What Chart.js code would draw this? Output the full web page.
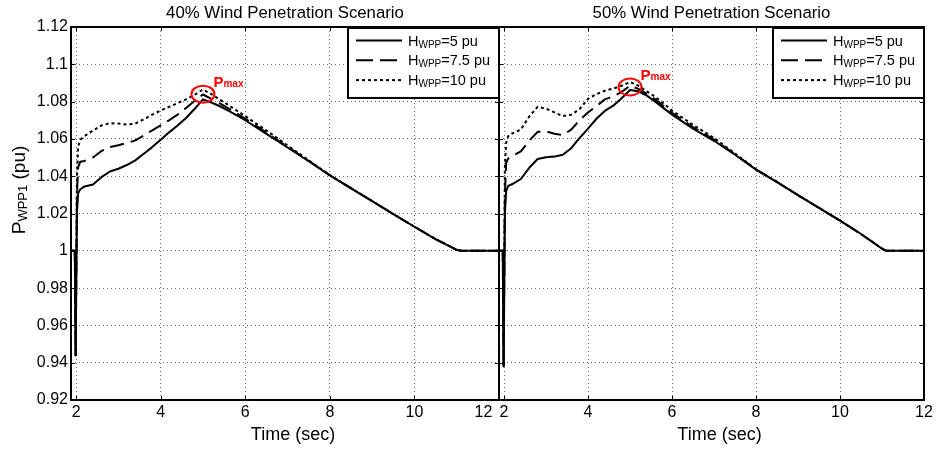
<!DOCTYPE html>
<html><head><meta charset="utf-8">
<script src="https://cdn.jsdelivr.net/npm/chart.js@4.4.0/dist/chart.umd.min.js"></script>
<style>
html,body{margin:0;padding:0;background:#fff;}
#wrap{position:relative;width:944px;height:450px;overflow:hidden;background:#fff;}
canvas{position:absolute;top:0;}
</style></head><body>
<div id="wrap">
<canvas id="c1" width="540" height="450" style="left:0px"></canvas>
<canvas id="c2" width="464" height="450" style="left:480px"></canvas>
</div>
<script>
const FONT = "'Liberation Sans', Arial, Helvetica, sans-serif";

// Time axis (sec)
const time = [1.88, 1.97, 1.99, 2.02, 2.05, 2.1, 2.2, 2.4, 2.6, 2.8, 3.0, 3.2, 3.4, 3.6, 3.8, 4.0, 4.2, 4.4, 4.6, 4.8, 5.0, 5.2, 5.4, 5.6, 5.8, 6.0, 6.5, 7.0, 7.5, 8.0, 8.5, 9.0, 9.5, 10.0, 10.5, 11.0, 11.1, 11.5, 12.0];

// 40% wind penetration
const p40_H5  = [1.0, 1.0, 0.944, 1.020, 1.031, 1.0330, 1.0345, 1.0355, 1.0395, 1.0425, 1.0440, 1.0460, 1.0485, 1.0520, 1.0556, 1.0595, 1.0635, 1.0672, 1.0712, 1.0760, 1.0812, 1.0795, 1.0775, 1.0752, 1.0726, 1.0700, 1.0627, 1.0554, 1.0480, 1.0404, 1.0335, 1.0266, 1.0197, 1.0129, 1.0063, 1.0005, 1.0, 1.0, 1.0];
const p40_H75 = [1.0, 1.0, 0.944, 1.030, 1.045, 1.0478, 1.0482, 1.0500, 1.0535, 1.0556, 1.0566, 1.0578, 1.0592, 1.0618, 1.0646, 1.0672, 1.0700, 1.0730, 1.0766, 1.0803, 1.0838, 1.0815, 1.0790, 1.0764, 1.0737, 1.0709, 1.0634, 1.0558, 1.0482, 1.0405, 1.0336, 1.0267, 1.0197, 1.0129, 1.0063, 1.0005, 1.0, 1.0, 1.0];
const p40_H10 = [1.0, 1.0, 0.944, 1.040, 1.056, 1.0595, 1.0615, 1.0645, 1.0672, 1.0684, 1.0682, 1.0677, 1.0682, 1.0705, 1.0730, 1.0752, 1.0772, 1.0792, 1.0812, 1.0836, 1.0865, 1.0840, 1.0810, 1.0782, 1.0752, 1.0722, 1.0645, 1.0565, 1.0485, 1.0406, 1.0336, 1.0267, 1.0197, 1.0129, 1.0063, 1.0005, 1.0, 1.0, 1.0];

// 50% wind penetration
const p50_H5  = [1.0, 1.0, 0.938, 1.020, 1.032, 1.0348, 1.0358, 1.0385, 1.0445, 1.0492, 1.0502, 1.0505, 1.0515, 1.0550, 1.0605, 1.0655, 1.0708, 1.0750, 1.0778, 1.0818, 1.0862, 1.0855, 1.0832, 1.0800, 1.0765, 1.0730, 1.0655, 1.0590, 1.0515, 1.0435, 1.0368, 1.0298, 1.0230, 1.0162, 1.0090, 1.0012, 1.0, 1.0, 1.0];
const p50_H75 = [1.0, 1.0, 0.938, 1.030, 1.047, 1.0495, 1.0510, 1.0533, 1.0590, 1.0638, 1.0640, 1.0628, 1.0620, 1.0650, 1.0700, 1.0742, 1.0775, 1.0812, 1.0828, 1.0852, 1.0885, 1.0868, 1.0842, 1.0812, 1.0776, 1.0740, 1.0663, 1.0596, 1.0518, 1.0436, 1.0369, 1.0298, 1.0230, 1.0162, 1.0090, 1.0012, 1.0, 1.0, 1.0];
const p50_H10 = [1.0, 1.0, 0.938, 1.045, 1.058, 1.0615, 1.0630, 1.0650, 1.0720, 1.0772, 1.0762, 1.0742, 1.0722, 1.0730, 1.0760, 1.0815, 1.0840, 1.0858, 1.0870, 1.0885, 1.0905, 1.0885, 1.0855, 1.0825, 1.0790, 1.0752, 1.0675, 1.0605, 1.0522, 1.0437, 1.0369, 1.0298, 1.0230, 1.0162, 1.0090, 1.0012, 1.0, 1.0, 1.0];

const hValues = ['5', '7.5', '10'];
const xTickValues = [2, 4, 6, 8, 10, 12];
const xTickLabels = ['2', '4', '6', '8', '10', '12'];
const yTickValues = [0.92, 0.94, 0.96, 0.98, 1.00, 1.02, 1.04, 1.06, 1.08, 1.10, 1.12];
const yTickLabels = ['0.92', '0.94', '0.96', '0.98', '1', '1.02', '1.04', '1.06', '1.08', '1.1', '1.12'];
const panelTitles = ['40% Wind Penetration Scenario', '50% Wind Penetration Scenario'];
const pmaxTime = [5.0, 5.0];
const pmaxValue = [1.0840, 1.0878];

const lineDashes = [[], [14, 7], [3, 3]];

function toXY(ys) { return time.map((t, i) => ({x: t, y: ys[i]})); }

function setFont(ctx, p) { ctx.font = (p.bold ? 'bold ' : '') + p.size + 'px ' + FONT; }
function richWidth(ctx, parts) {
  let w = 0;
  parts.forEach(p => { setFont(ctx, p); w += ctx.measureText(p.t).width; });
  return w;
}
function drawRich(ctx, x, y, parts) {
  let cx = x;
  ctx.textAlign = 'left';
  ctx.textBaseline = 'alphabetic';
  parts.forEach(p => { setFont(ctx, p); ctx.fillText(p.t, cx, y + (p.dy || 0)); cx += ctx.measureText(p.t).width; });
}

function makePanel(id, vals, idx, opt) {
  const plugin = {
    id: 'deco' + idx,
    afterDraw(chart) {
      const ctx = chart.ctx, ca = chart.chartArea;
      const xs = chart.scales.x, ys = chart.scales.y;
      ctx.save();
      // inward tick marks
      ctx.strokeStyle = '#000'; ctx.lineWidth = 1; ctx.setLineDash([]);
      ctx.beginPath();
      xTickValues.forEach(v => {
        const px = Math.round(xs.getPixelForValue(v)) + 0.5;
        ctx.moveTo(px, ca.bottom); ctx.lineTo(px, ca.bottom - 4);
        ctx.moveTo(px, ca.top); ctx.lineTo(px, ca.top + 4);
      });
      yTickValues.forEach(v => {
        const py = Math.round(ys.getPixelForValue(v)) + 0.5;
        ctx.moveTo(ca.left, py); ctx.lineTo(ca.left + 4, py);
        ctx.moveTo(ca.right, py); ctx.lineTo(ca.right - 4, py);
      });
      ctx.stroke();
      // frame
      ctx.lineWidth = 2;
      ctx.strokeRect(ca.left, ca.top, ca.right - ca.left, ca.bottom - ca.top);

      // legend
      const lw = 151, lh = 70;
      const lx = ca.right - lw, ly = ca.top + 1;
      ctx.fillStyle = '#fff';
      ctx.fillRect(lx, ly, lw, lh);
      ctx.strokeStyle = '#000'; ctx.lineWidth = 2;
      ctx.strokeRect(lx, ly, lw, lh);
      chart.data.datasets.forEach((ds, i) => {
        const ry = ly + 12.5 + i * 19.8;
        ctx.strokeStyle = '#000'; ctx.lineWidth = 2;
        ctx.setLineDash(i === 1 ? [17, 7] : ds.borderDash);
        ctx.beginPath(); ctx.moveTo(lx + 8, ry); ctx.lineTo(lx + 54, ry); ctx.stroke();
        ctx.setLineDash([]);
        ctx.fillStyle = '#000';
        drawRich(ctx, lx + 60, ry + 5, [
          {t: 'H', size: 14.5}, {t: 'WPP', size: 10, dy: 2}, {t: '=' + hValues[i] + ' pu', size: 14.5}
        ]);
      });

      // title
      ctx.fillStyle = '#000';
      const tParts = [{t: opt.title, size: 16.8}];
      const tw = richWidth(ctx, tParts);
      drawRich(ctx, (ca.left + ca.right) / 2 - tw / 2, 18, tParts);

      // x title
      const xParts = [{t: 'Time (sec)', size: 18}];
      const xw = richWidth(ctx, xParts);
      drawRich(ctx, (ca.left + ca.right) / 2 + 8 - xw / 2, ca.bottom + 40, xParts);

      // y title
      if (opt.showY) {
        const yParts = [{t: 'P', size: 19}, {t: 'WPP1', size: 13, dy: 2}, {t: ' (pu)', size: 19}];
        const yw = richWidth(ctx, yParts);
        ctx.save();
        ctx.translate(25, 190);
        ctx.rotate(-Math.PI / 2);
        drawRich(ctx, -yw / 2, 0, yParts);
        ctx.restore();
      }

      // Pmax annotation
      const cx = xs.getPixelForValue(pmaxTime[idx]);
      const cy = ys.getPixelForValue(pmaxValue[idx]);
      ctx.strokeStyle = '#ff0000'; ctx.lineWidth = 2;
      ctx.beginPath(); ctx.ellipse(cx, cy, 11.5, 8.5, 0, 0, Math.PI * 2); ctx.stroke();
      ctx.fillStyle = '#ff0000';
      drawRich(ctx, cx + 10.5, cy - 7.5, [{t: 'P', size: 15, bold: true}, {t: 'max', size: 10, bold: true, dy: 0.5}]);
      ctx.restore();
    }
  };

  return new Chart(document.getElementById(id), {
    type: 'line',
    data: {
      datasets: vals.map((v, i) => ({
        label: 'H_WPP=' + hValues[i] + ' pu',
        data: toXY(v),
        borderColor: '#000',
        borderWidth: 2,
        borderDash: lineDashes[i],
        borderCapStyle: 'butt',
        borderJoinStyle: 'round',
        pointRadius: 0,
        tension: 0,
        fill: false
      }))
    },
    options: {
      responsive: false,
      animation: false,
      devicePixelRatio: 1,
      layout: {padding: {left: 0, right: opt.padRight, top: 27, bottom: 0}},
      plugins: {legend: {display: false}, tooltip: {enabled: false}, title: {display: false}},
      scales: {
        x: {
          type: 'linear', min: 1.88, max: 12,
          afterBuildTicks: s => { s.ticks = xTickValues.map(v => ({value: v})); },
          afterFit: s => { s.height = 50; },
          ticks: {
            font: {family: FONT, size: 16}, color: '#000', padding: 3, maxRotation: 0, autoSkip: false,
            callback: (v, i) => xTickLabels[i] + (opt.shiftLast && i === xTickLabels.length - 1 ? '\u2007\u2007\u2007 ' : '')
          },
          grid: {color: 'rgba(0,0,0,0.6)', lineWidth: 1, drawTicks: false, borderDash: [1, 3]},
          border: {display: false, dash: [1, 3]}
        },
        y: {
          type: 'linear', min: 0.92, max: 1.12,
          afterBuildTicks: s => { s.ticks = yTickValues.map(v => ({value: v})); },
          afterFit: s => { s.width = opt.yWidth; },
          ticks: {
            display: opt.showY,
            font: {family: FONT, size: 16}, color: '#000', padding: 3, autoSkip: false,
            callback: (v, i) => yTickLabels[i]
          },
          grid: {color: 'rgba(0,0,0,0.6)', lineWidth: 1, drawTicks: false, borderDash: [1, 3]},
          border: {display: false, dash: [1, 3]}
        }
      }
    },
    plugins: [plugin]
  });
}

makePanel('c1', [p40_H5, p40_H75, p40_H10], 0, {title: panelTitles[0], showY: true, yWidth: 71, padRight: 41, shiftLast: true});
makePanel('c2', [p50_H5, p50_H75, p50_H10], 1, {title: panelTitles[1], showY: false, yWidth: 19, padRight: 20, shiftLast: false});
</script>
</body></html>
